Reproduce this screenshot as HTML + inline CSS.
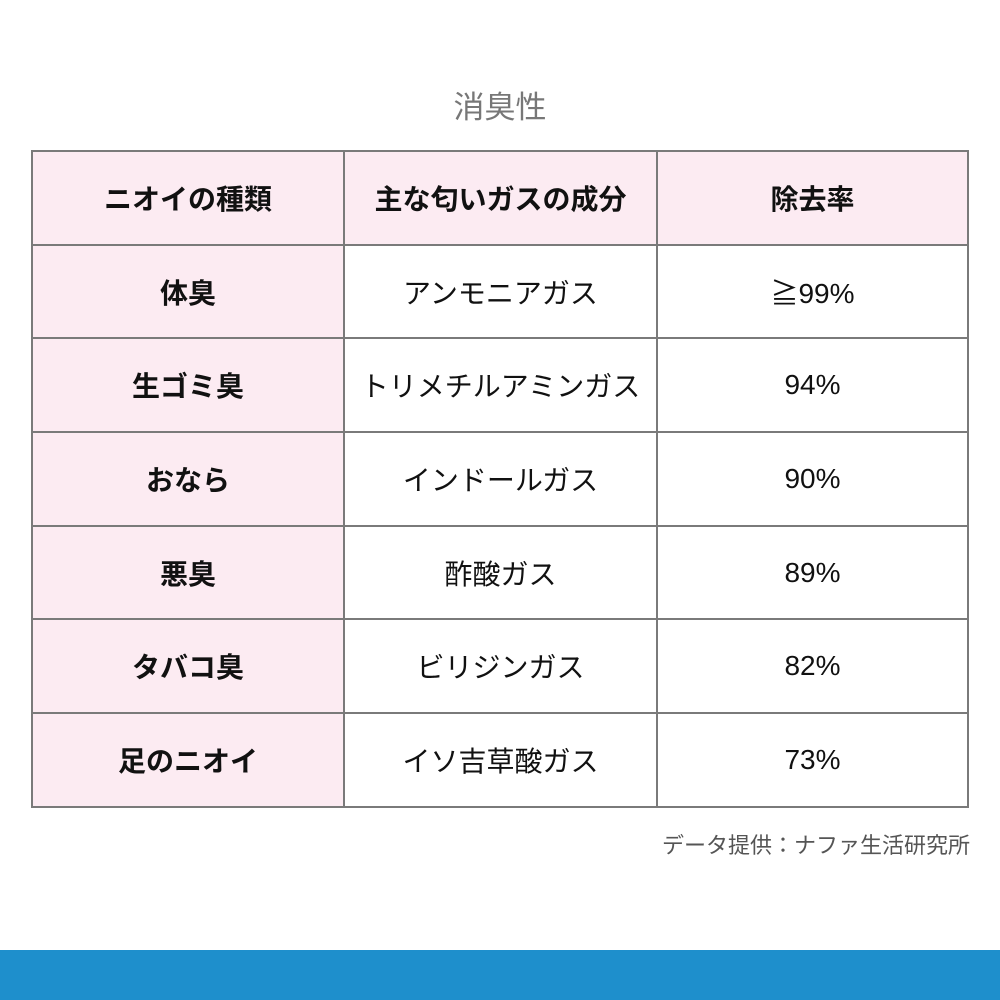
<!DOCTYPE html>
<html><head><meta charset="utf-8"><style>
body{margin:0;width:1000px;height:1000px;background:#fff;position:relative;font-family:"Liberation Sans","Noto Sans CJK JP",sans-serif;overflow:hidden}
.title{position:absolute;top:82px;left:0;width:1000px;text-align:center;font-size:31px;color:#777}
table{position:absolute;left:31px;top:150px;border-collapse:collapse;}
td{border:2px solid #7a7a7a;height:93.7px;text-align:center;font-size:28px;color:#111;padding:0;box-sizing:border-box}
td.p{background:#fcebf2}
td.b{font-weight:bold}
.src{position:absolute;top:828px;right:30px;font-size:22px;color:#555}
.bar{position:absolute;left:0;top:950px;width:1000px;height:50px;background:#1e8fcc}
</style></head><body>
<div class="title">消臭性</div>
<table>
<tr><td class="p b" style="width:312px">ニオイの種類</td><td class="p b" style="width:313px">主な匂いガスの成分</td><td class="p b" style="width:311px">除去率</td></tr>
<tr><td class="p b">体臭</td><td>アンモニアガス</td><td>≧99%</td></tr>
<tr><td class="p b">生ゴミ臭</td><td>トリメチルアミンガス</td><td>94%</td></tr>
<tr><td class="p b">おなら</td><td>インドールガス</td><td>90%</td></tr>
<tr><td class="p b">悪臭</td><td>酢酸ガス</td><td>89%</td></tr>
<tr><td class="p b">タバコ臭</td><td>ビリジンガス</td><td>82%</td></tr>
<tr><td class="p b">足のニオイ</td><td>イソ吉草酸ガス</td><td>73%</td></tr>
</table>
<div class="src">データ提供：ナファ生活研究所</div>
<div class="bar"></div>
</body></html>
